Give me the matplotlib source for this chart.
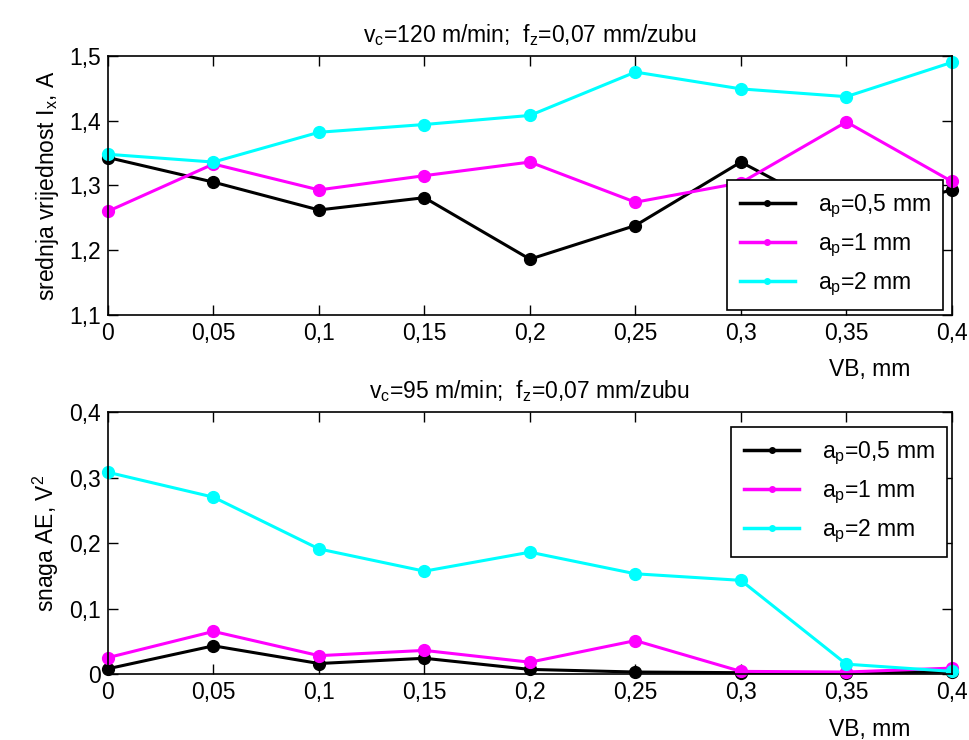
import matplotlib
matplotlib.use("Agg")
import matplotlib.pyplot as plt
from matplotlib.lines import Line2D

plt.rcParams['font.family'] = ['Liberation Sans', 'DejaVu Sans']
plt.rcParams['mathtext.fontset'] = 'custom'
plt.rcParams['mathtext.rm'] = 'Liberation Sans'

vb = [0, 0.05, 0.1, 0.15, 0.2, 0.25, 0.3, 0.35, 0.4]
x_ticklabels = ["0", "0,05", "0,1", "0,15", "0,2", "0,25", "0,3", "0,35", "0,4"]

# Top: mean current I_x, A
ix_05 = [1.343, 1.305, 1.262, 1.281, 1.186, 1.238, 1.336, 1.250, 1.293]
ix_1 = [1.260, 1.333, 1.293, 1.315, 1.336, 1.274, 1.304, 1.398, 1.306]
ix_2 = [1.348, 1.336, 1.382, 1.394, 1.408, 1.475, 1.449, 1.437, 1.490]
top_yticks = [1.1, 1.2, 1.3, 1.4, 1.5]
top_yticklabels = ["1,1", "1,2", "1,3", "1,4", "1,5"]

# Bottom: AE power, V^2
ae_05 = [0.008, 0.043, 0.016, 0.024, 0.007, 0.003, 0.002, 0.002, 0.003]
ae_1 = [0.025, 0.065, 0.028, 0.036, 0.018, 0.051, 0.004, 0.003, 0.009]
ae_2 = [0.308, 0.270, 0.191, 0.157, 0.186, 0.153, 0.143, 0.015, 0.004]
bot_yticks = [0, 0.1, 0.2, 0.3, 0.4]
bot_yticklabels = ["0", "0,1", "0,2", "0,3", "0,4"]

labels = ["a$_p$=0,5 mm", "a$_p$=1 mm", "a$_p$=2 mm"]
colors = ["black", "#ff00ff", "#00ffff"]

FS = 16.5
plt.rcParams['mathtext.default'] = 'regular'

fig = plt.figure(figsize=(9.7, 7.4), dpi=100)
ax1 = fig.add_axes([0.1113, 0.5745, 0.870, 0.350])
ax2 = fig.add_axes([0.1113, 0.0892, 0.870, 0.354])


def style(ax, series, yticks, yticklabels, ylabel, title, legend_loc, legend_anchor):
    for ys, c, lab in zip(series, colors, labels):
        ax.plot(vb, ys, color=c, lw=2.2, marker='o', ms=8.5, clip_on=False, label=lab)
    ax.set_xlim(0, 0.4)
    ax.set_ylim(yticks[0], yticks[-1])
    ax.set_xticks(vb)
    ax.set_xticklabels(x_ticklabels, fontsize=FS)
    ax.set_yticks(yticks)
    ax.set_yticklabels(yticklabels, fontsize=FS)
    ax.tick_params(direction='in', top=True, right=True, length=7, width=1, pad=5)
    for s in ax.spines.values():
        s.set_linewidth(1.2)
    ax.set_ylabel(ylabel, fontsize=FS, labelpad=6)
    ax.set_title(title, fontsize=FS, pad=10)
    ax.text(0.903, -0.21, "VB, mm", transform=ax.transAxes, fontsize=FS,
            ha='center', va='center')
    handles = [Line2D([0], [0], color=c, lw=2.5, marker='o', ms=4) for c in colors]
    leg = ax.legend(handles, labels, loc=legend_loc, bbox_to_anchor=legend_anchor,
                    fontsize=FS, frameon=True, fancybox=False, framealpha=1,
                    edgecolor='black', handlelength=2.4, handletextpad=1.0,
                    labelspacing=0.5, borderpad=0.55, borderaxespad=0.2)
    leg.get_frame().set_linewidth(1.2)
    leg.set_zorder(10)


style(ax1, [ix_05, ix_1, ix_2], top_yticks, top_yticklabels,
      "srednja vrijednost I$_x$, A",
      "v$_c$=120 m/min;  f$_z$=0,07 mm/zubu",
      'lower right', (0.995, 0.0))
style(ax2, [ae_05, ae_1, ae_2], bot_yticks, bot_yticklabels,
      "snaga AE, V$^2$",
      "v$_c$=95 m/min;  f$_z$=0,07 mm/zubu",
      'upper right', (1.0, 0.96))

fig.savefig("out.png", dpi=100)
